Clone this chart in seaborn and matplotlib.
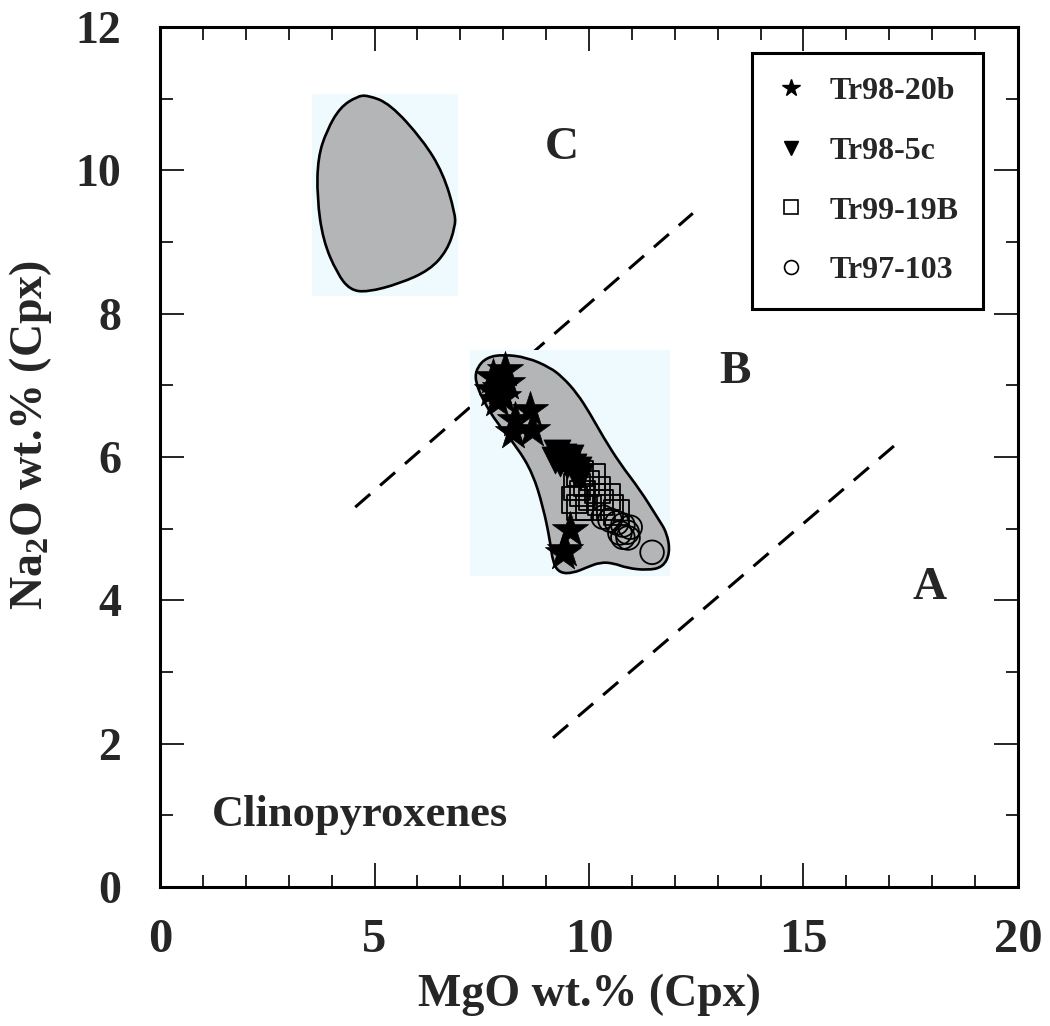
import numpy as np
import matplotlib
matplotlib.use("Agg")
import matplotlib.pyplot as plt
from matplotlib.path import Path
from matplotlib.patches import PathPatch, Rectangle
from matplotlib.lines import Line2D
import seaborn as sns

# Cpx analyses, MgO vs Na2O (wt.%)
star_mgo = [8.04, 7.76, 7.74, 7.93, 8.00, 7.86, 8.09, 8.62, 8.28, 8.67, 8.23, 9.56, 9.44, 9.39]
star_na2o = [7.21, 7.11, 6.93, 6.96, 6.83, 6.79, 7.03, 6.65, 6.51, 6.37, 6.35, 4.98, 4.70, 4.66]

tri_mgo = [9.25, 9.40, 9.56, 9.32, 9.49, 9.63, 9.74, 9.79, 9.67, 9.21]
tri_na2o = [6.05, 6.00, 5.98, 5.91, 5.89, 5.86, 5.82, 5.72, 5.77, 5.96]

sq_mgo = [9.67, 9.72, 9.84, 9.95, 10.07, 10.19, 10.26, 10.42, 10.49, 10.65, 9.79, 9.98, 10.09, 9.79]
sq_na2o = [5.40, 5.58, 5.49, 5.63, 5.44, 5.54, 5.36, 5.44, 5.30, 5.22, 5.30, 5.29, 5.72, 5.77]

circ_mgo = [10.33, 10.49, 10.65, 10.79, 10.89, 10.79, 10.91, 10.72, 11.47, 10.96]
circ_na2o = [5.16, 5.12, 5.08, 5.05, 4.95, 4.88, 4.87, 4.94, 4.67, 5.02]

sample_names = ["Tr98-20b", "Tr98-5c", "Tr99-19B", "Tr97-103"]

# field outlines
field_c_mgo = [4.83, 5.36, 6.13, 6.60, 6.88, 6.88, 6.69, 6.29, 5.59, 4.83, 4.43, 4.13,
               3.80, 3.66, 3.68, 3.89, 4.20, 4.59]
field_c_na2o = [11.05, 10.93, 10.42, 9.96, 9.40, 9.21, 8.88, 8.61, 8.42, 8.30, 8.33, 8.56,
                9.02, 9.62, 10.18, 10.56, 10.88, 11.03]

field_b_mgo = [7.39, 7.62, 8.00, 8.55, 9.09, 9.39, 9.72, 10.02, 10.33, 10.72, 11.19, 11.59,
               11.82, 11.89, 11.72, 11.35, 10.89, 10.56, 10.26, 9.95, 9.63, 9.32, 9.16,
               9.09, 8.93, 8.69, 8.32, 7.86, 7.53, 7.34]
field_b_na2o = [7.25, 7.39, 7.43, 7.39, 7.25, 7.11, 6.89, 6.61, 6.28, 5.91, 5.54, 5.16,
                4.94, 4.66, 4.46, 4.42, 4.45, 4.52, 4.53, 4.46, 4.38, 4.38, 4.52,
                4.84, 5.30, 5.77, 6.14, 6.47, 6.79, 7.07]

# boundary lines between A / B / C
line_bc_mgo = [4.55, 12.42]
line_bc_na2o = [5.30, 9.40]
line_ab_mgo = [9.16, 17.18]
line_ab_na2o = [2.08, 6.19]

region_labels = ["A", "B", "C"]
region_mgo = [17.95, 13.40, 9.37]
region_na2o = [4.17, 7.18, 10.31]


def smooth_patch(xs, ys, **kw):
    pts = np.column_stack([xs, ys])
    mids = (pts + np.roll(pts, -1, axis=0)) / 2
    verts = [mids[-1]]
    codes = [Path.MOVETO]
    for p, m in zip(pts, mids):
        verts += [p, m]
        codes += [Path.CURVE3, Path.CURVE3]
    return PathPatch(Path(verts, codes), **kw)


sns.set_style("ticks")
plt.rcParams["font.family"] = ["Liberation Serif", "DejaVu Serif"]
plt.rcParams["font.weight"] = "bold"
plt.rcParams["mathtext.fontset"] = "custom"
plt.rcParams["mathtext.rm"] = "Liberation Serif:bold"
plt.rcParams["mathtext.it"] = "Liberation Serif:bold"

fig = plt.figure(figsize=(10.5, 10.26), dpi=100)
ax = fig.add_axes([0.1524, 0.1355, 0.8171, 0.8382])

# scanned field backgrounds
ax.add_patch(Rectangle((3.54, 8.24), 6.95 - 3.54, 11.07 - 8.24, color="#eefafd", lw=0, zorder=2))
ax.add_patch(Rectangle((7.23, 4.34), 11.89 - 7.23, 7.49 - 4.34, color="#eefafd", lw=0, zorder=2))

ax.add_patch(smooth_patch(field_c_mgo, field_c_na2o, facecolor="#b3b5b6",
                          edgecolor="black", lw=1.9, zorder=3))
ax.add_patch(smooth_patch(field_b_mgo, field_b_na2o, facecolor="#b3b5b6",
                          edgecolor="black", lw=1.9, zorder=3))

for lx, ly in [(line_bc_mgo, line_bc_na2o), (line_ab_mgo, line_ab_na2o)]:
    sns.lineplot(x=lx, y=ly, ax=ax, color="black", lw=2.2, zorder=1,
                 linestyle=(0, (6.5, 4.3)), legend=False)

sns.scatterplot(x=star_mgo, y=star_na2o, marker="*", s=750, color="black",
                edgecolor="black", linewidth=0.5, ax=ax, zorder=5, legend=False)
sns.scatterplot(x=tri_mgo, y=tri_na2o, marker="v", s=380, color="black",
                edgecolor="black", linewidth=0.5, ax=ax, zorder=5, legend=False)
sns.scatterplot(x=sq_mgo, y=sq_na2o, marker="s", s=330, facecolor="none",
                edgecolor="black", linewidth=1.3, ax=ax, zorder=5, legend=False)
sns.scatterplot(x=circ_mgo, y=circ_na2o, marker="o", s=290, facecolor="none",
                edgecolor="black", linewidth=1.3, ax=ax, zorder=5, legend=False)

for lab, x, y in zip(region_labels, region_mgo, region_na2o):
    ax.text(x, y, lab, fontsize=34, fontweight="bold", ha="center", va="center", zorder=6)
ax.text(1.21, 0.85, "Clinopyroxenes", fontsize=32, fontweight="bold", ha="left",
        va="baseline", zorder=6)

ax.set_xlim(0, 20)
ax.set_ylim(0, 12)
ax.set_xticks([0, 5, 10, 15, 20])
ax.set_xticks(np.arange(0, 21, 1), minor=True)
ax.set_yticks([0, 2, 4, 6, 8, 10, 12])
ax.set_yticks(np.arange(0, 13, 1), minor=True)
ax.tick_params(which="both", direction="in", top=True, right=True, width=1.2, color="black")
ax.tick_params(which="major", length=17)
ax.tick_params(which="minor", length=9)
ax.tick_params(axis="x", which="major", labelsize=35, pad=22)
ax.tick_params(axis="y", which="major", labelsize=33, pad=28)
for lbl in ax.get_xticklabels() + ax.get_yticklabels():
    lbl.set_fontweight("bold")
for sp in ax.spines.values():
    sp.set_linewidth(2.2)
    sp.set_color("black")

ax.set_xlabel("MgO wt.% (Cpx)", fontsize=33, fontweight="bold")
ax.set_ylabel("Na$_2$O wt.% (Cpx)", fontsize=33, fontweight="bold")
ax.xaxis.set_label_coords(0.5, -0.101)
ax.yaxis.set_label_coords(-0.124, 0.526)

handles = [
    Line2D([], [], ls="none", marker="*", ms=13, color="black"),
    Line2D([], [], ls="none", marker="v", ms=10, color="black"),
    Line2D([], [], ls="none", marker="s", ms=10, mfc="none", mec="black", mew=1.2),
    Line2D([], [], ls="none", marker="o", ms=10, mfc="none", mec="black", mew=1.2),
]
leg = ax.legend(handles, sample_names, loc="upper right", bbox_to_anchor=(0.959, 0.970),
                borderaxespad=0, frameon=True, fancybox=False, edgecolor="black",
                framealpha=1, prop={"family": "Liberation Serif", "weight": "bold", "size": 23},
                labelspacing=0.95, borderpad=0.75, handlelength=0.95, handletextpad=0.75)
leg.get_frame().set_linewidth(2.2)
leg.set_zorder(10)

fig.savefig("out.png", dpi=100)
